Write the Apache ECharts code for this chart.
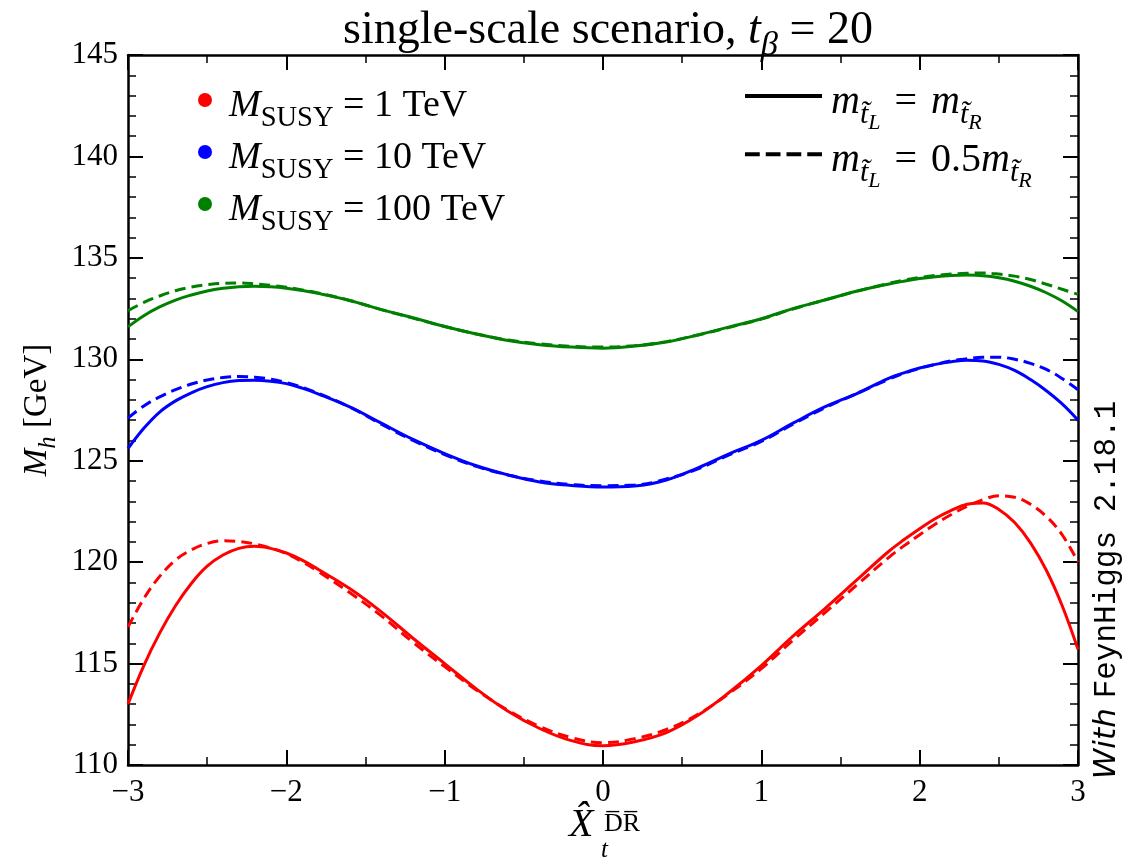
<!DOCTYPE html>
<html><head><meta charset="utf-8">
<script src="https://cdn.jsdelivr.net/npm/echarts@6/dist/echarts.min.js"></script>
<style>html,body{margin:0;padding:0;background:#fff}#c{width:1135px;height:860px}</style>
</head><body><div id="c"></div>
<script>
// ---- data ----
const xValues = [-3,-2.9,-2.8,-2.7,-2.6,-2.5,-2.4,-2.3,-2.2,-2.1,-2,-1.9,-1.8,
  -1.6,-1.4,-1.2,-1,-0.8,-0.6,-0.4,-0.2,0,0.2,0.4,0.6,0.8,1,1.2,1.4,1.6,
  1.8,1.9,2,2.1,2.2,2.3,2.4,2.5,2.6,2.7,2.8,2.9,3];
const redSolid   = [113.0,114.9,116.5,117.85,118.95,119.8,120.35,120.68,120.78,120.68,120.45,120.1,119.65,
  118.7,117.55,116.25,115.0,113.75,112.65,111.8,111.2,110.95,111.15,111.6,112.45,113.6,114.9,116.35,117.7,119.1,
  120.5,121.1,121.65,122.15,122.55,122.85,122.92,122.6,121.95,120.95,119.6,117.85,115.7];
const redDashed  = [116.8,118.2,119.3,120.1,120.6,120.92,121.05,121.02,120.9,120.7,120.42,120.02,119.55,
  118.5,117.35,116.05,114.85,113.7,112.7,111.9,111.35,111.1,111.3,111.75,112.5,113.55,114.75,116.15,117.5,118.85,
  120.2,120.8,121.35,121.88,122.35,122.75,123.08,123.27,123.2,122.85,122.25,121.35,120.0];
const blueSolid  = [125.6,126.6,127.4,127.95,128.35,128.65,128.85,128.95,128.97,128.92,128.8,128.58,128.3,
  127.65,126.85,126.05,125.35,124.75,124.3,123.95,123.78,123.7,123.75,124.05,124.65,125.35,126.0,126.85,127.65,128.3,
  129.05,129.33,129.57,129.75,129.88,129.95,129.92,129.75,129.45,129.0,128.45,127.8,127.0];
const blueDashed = [127.1,127.7,128.15,128.5,128.78,128.98,129.1,129.15,129.12,129.02,128.85,128.62,128.33,
  127.65,126.8,126.0,125.3,124.72,124.3,124.0,123.82,123.77,123.8,124.1,124.6,125.3,125.95,126.8,127.6,128.3,
  129.0,129.3,129.55,129.75,129.92,130.03,130.1,130.1,130.0,129.8,129.5,129.05,128.5];
const greenSolid = [131.6,132.15,132.58,132.92,133.17,133.37,133.5,133.58,133.6,133.57,133.5,133.39,133.25,
  132.9,132.45,132.05,131.62,131.25,130.93,130.72,130.6,130.55,130.65,130.85,131.2,131.6,132.0,132.5,132.92,133.35,
  133.7,133.85,133.98,134.07,134.13,134.15,134.12,134.02,133.85,133.6,133.28,132.87,132.35];
const greenDashed= [132.4,132.8,133.12,133.38,133.56,133.68,133.75,133.76,133.72,133.65,133.55,133.42,133.27,
  132.9,132.45,132.03,131.62,131.25,130.95,130.76,130.64,130.6,130.67,130.87,131.2,131.58,131.98,132.48,132.92,133.35,
  133.73,133.9,134.03,134.13,134.2,134.24,134.25,134.2,134.1,133.93,133.7,133.45,133.2];
const massLabels = ['1', '10', '100'];       // M_SUSY in TeV
const xTicks = [-3,-2,-1,0,1,2,3];
const yTicks = [110,115,120,125,130,135,140,145];

// ---- styling helpers ----
const SERIF = "'Liberation Serif','DejaVu Serif',serif";
function mathRich(F, padLeft, eqPad) {
  const base = {fontFamily: SERIF, color: '#000', verticalAlign: 'top', fontWeight: 'normal'};
  const S = 0.75, SS = 0.55;
  return {
    r:  Object.assign({}, base, {fontSize: F, lineHeight: F, padding: [0.15*F,0,0,0]}),
    eq: Object.assign({}, base, {fontSize: F, lineHeight: F, padding: [0.15*F,eqPad||0,0,eqPad||0]}),
    i:  Object.assign({}, base, {fontSize: F, lineHeight: F, fontStyle: 'italic', padding: [0.15*F,0,0,0]}),
    ip: Object.assign({}, base, {fontSize: F, lineHeight: F, fontStyle: 'italic', padding: [0.15*F,0,0,padLeft||0]}),
    s:  Object.assign({}, base, {fontSize: S*F, lineHeight: S*F, padding: [(0.98-S/2)*F,0,0,0]}),
    si: Object.assign({}, base, {fontSize: S*F, lineHeight: S*F, fontStyle: 'italic', padding: [(0.98-S/2)*F,0,0,0]}),
    ss: Object.assign({}, base, {fontSize: SS*F, lineHeight: SS*F, fontStyle: 'italic', padding: [(1.18-SS/2)*F,0,0,0]})
  };
}
const fmtMinus = v => String(v).replace('-', '\u2212');

const pairs = ys => xValues.map((x, k) => [x, ys[k]]);
const DASH = [11, 6];
const colors = {M1: '#ff0000', M10: '#0000ff', M100: '#008000'};
function curve(name, ys, dashed) {
  return {
    name: name, type: 'line', data: pairs(ys), smooth: 0.4, showSymbol: false, symbol: 'none',
    xAxisIndex: 0, yAxisIndex: 0, color: colors[name],
    lineStyle: {width: 3, color: colors[name], type: dashed ? DASH : 'solid'},
    z: dashed ? 3 : 2, silent: true
  };
}

const axisCommon = {
  axisLine: {show: true, onZero: false, lineStyle: {color: '#000', width: 2.5}},
  axisTick: {show: true, inside: true, length: 15, lineStyle: {color: '#000', width: 2}},
  minorTick: {show: true, length: 8, lineStyle: {color: '#000', width: 1.5}},
  splitLine: {show: false}
};

const chart = echarts.init(document.getElementById('c'), null, {renderer: 'canvas'});
const option = {
  backgroundColor: '#fff',
  animation: false,
  title: {
    text: '{r|single-scale scenario, }{i|t}{si|β}{r| = 20}',
    left: 603, top: -4, textAlign: 'center',
    textStyle: {fontWeight: 'normal', rich: mathRich(46)}
  },
  grid: {left: 128, right: 57, top: 55, bottom: 95, containLabel: false},
  legend: [
    {
      data: ['M1', 'M10', 'M100'], orient: 'vertical', left: 193, top: 76,
      icon: 'circle', itemWidth: 14, itemHeight: 14, itemGap: 0,
      selectedMode: false,
      formatter: n => '{ip|M}{s|SUSY}{r| = ' + massLabels[['M1','M10','M100'].indexOf(n)] + ' TeV}',
      textStyle: {rich: mathRich(38, 12)}
    },
    {
      data: [
        {name: 'EQ', icon: 'path://M0 0H77V4H0Z'},
        {name: 'HALF', icon: 'path://M0 0H14.75V4H0Z M20.75 0H35.5V4H20.75Z M41.5 0H56.25V4H41.5Z M62.25 0H77V4H62.25Z'}
      ],
      orient: 'vertical', left: 740, top: 71,
      itemWidth: 77, itemHeight: 4, itemGap: 0,
      selectedMode: false,
      formatter: n => n === 'EQ'
        ? '{ip|m}{si|t\u0303}{ss|L}{eq|=}{i|m}{si|t\u0303}{ss|R}'
        : '{ip|m}{si|t\u0303}{ss|L}{eq|=}{r|0.5}{i|m}{si|t\u0303}{ss|R}',
      textStyle: {rich: mathRich(40, 4, 14)}
    }
  ],
  xAxis: [
    Object.assign({}, axisCommon, {
      type: 'value', min: -3, max: 3, interval: 1, position: 'bottom',
      minorTick: Object.assign({}, axisCommon.minorTick, {splitNumber: 2}),
      axisLabel: {show: true, margin: 12, color: '#000', fontFamily: SERIF, fontSize: 31,
        formatter: v => xTicks.indexOf(v) >= 0 ? fmtMinus(v) : ''}
    }),
    Object.assign({}, axisCommon, {
      type: 'value', min: -3, max: 3, interval: 1, position: 'top',
      minorTick: Object.assign({}, axisCommon.minorTick, {splitNumber: 2}),
      axisLabel: {show: false}
    })
  ],
  yAxis: [
    Object.assign({}, axisCommon, {
      type: 'value', min: 110, max: 145, interval: 5, position: 'left',
      minorTick: Object.assign({}, axisCommon.minorTick, {splitNumber: 5}),
      axisLabel: {show: true, margin: 10, color: '#000', fontFamily: SERIF, fontSize: 31,
        formatter: v => yTicks.indexOf(v) >= 0 ? String(v) : ''},
      name: '{i|M}{si|h}{r| [GeV]}', nameLocation: 'middle', nameRotate: 90, nameGap: 62,
      nameTextStyle: {rich: mathRich(33)}
    }),
    Object.assign({}, axisCommon, {
      type: 'value', min: 110, max: 145, interval: 5, position: 'right',
      minorTick: Object.assign({}, axisCommon.minorTick, {splitNumber: 5}),
      axisLabel: {show: false}
    })
  ],
  graphic: [
    {type: 'text', left: 569, top: 805, silent: true,
      style: {text: 'X\u0302', font: 'italic 40px ' + SERIF, fill: '#000'}},
    {type: 'text', left: 601, top: 838, silent: true,
      style: {text: 't', font: 'italic 25px ' + SERIF, fill: '#000'}},
    {type: 'text', left: 604, top: 811, silent: true,
      style: {text: 'D\u0305R\u0305', font: '26px ' + SERIF, fill: '#000'}},
    {type: 'text', x: 1107, y: 590, rotation: Math.PI / 2, silent: true,
      style: {
        text: '{w|With }{m|FeynHiggs 2.18.1}', align: 'center', verticalAlign: 'middle',
        rich: {
          w: {fontFamily: "'DejaVu Sans',sans-serif", fontStyle: 'italic', fontSize: 31, fill: '#000'},
          m: {fontFamily: "'Liberation Mono','DejaVu Sans Mono',monospace", fontSize: 31, fill: '#000'}
        },
        fill: '#000'
      }}
  ],
  series: [
    curve('M1', redSolid, false), curve('M1', redDashed, true),
    curve('M10', blueSolid, false), curve('M10', blueDashed, true),
    curve('M100', greenSolid, false), curve('M100', greenDashed, true),
    {name: 'EQ', type: 'line', data: [], symbol: 'none', color: '#000', lineStyle: {color: '#000'}},
    {name: 'HALF', type: 'line', data: [], symbol: 'none', color: '#000', lineStyle: {color: '#000'}}
  ]
};
chart.setOption(option);
</script></body></html>
